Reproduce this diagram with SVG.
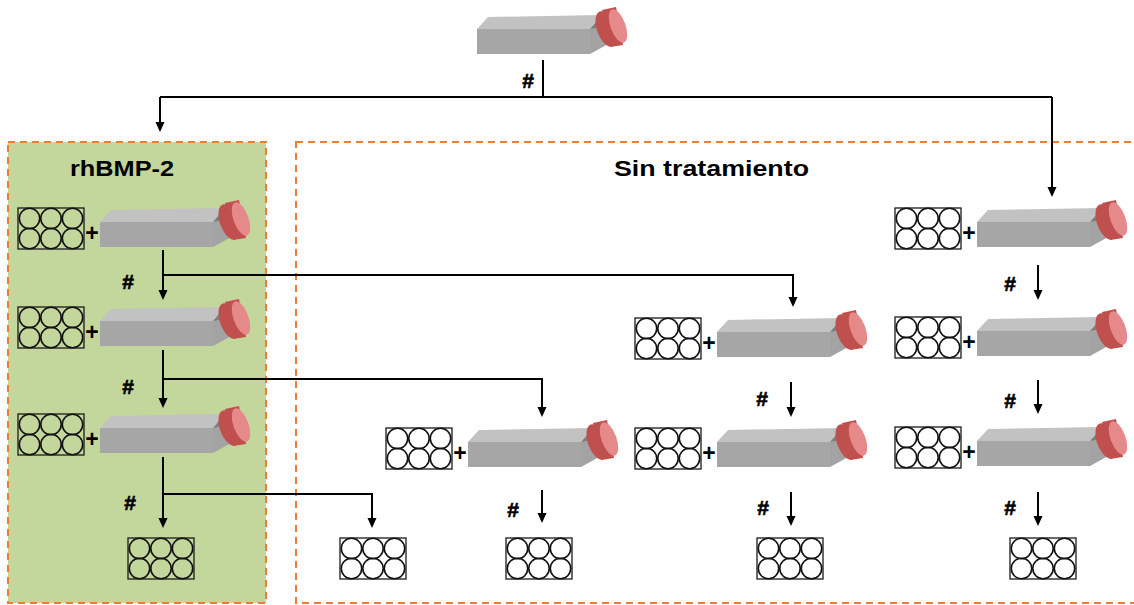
<svg xmlns="http://www.w3.org/2000/svg" xmlns:xlink="http://www.w3.org/1999/xlink" width="1134" height="605" viewBox="0 0 1134 605">
  <style>
    .lbl { font-family: "Liberation Sans", Arial, sans-serif; font-weight: bold; fill: #000; }
    .title { font-size: 22px; }
    .hash { font-size: 21px; text-anchor: middle; stroke: #000; stroke-width: 0.6; }
    .plus { font-size: 23px; text-anchor: middle; }
    .conn { fill: none; stroke: #000; stroke-width: 2; }
    .arrow { marker-end: url(#head); }
    .plate rect { fill: none; stroke: #1a1a1a; stroke-width: 1.3; }
    .plate circle { fill: none; stroke: #111; stroke-width: 1.6; }
    .box { stroke: #ed7d31; stroke-width: 2; stroke-dasharray: 7 5; }
  </style>
  <defs>
    <marker id="head" markerUnits="userSpaceOnUse" markerWidth="10" markerHeight="10" refX="7" refY="4.5" orient="auto">
      <path d="M0,0 L10,4.5 L0,9 z" fill="#000"/>
    </marker>
    <!-- culture flask: origin is the top-left corner of the front face -->
    <g id="flask">
      <polygon points="0,0 11,-12 124,-14 113,0" fill="#c2c2c2"/>
      <polygon points="0,0 113,0 113,25 0,25" fill="#a6a6a6"/>
      <polygon points="113,0 124,-14 133,14 113,25" fill="#a3a3a3"/>
      <polygon points="113,0 125,-13 128,-3" fill="#7e7e7e"/>
      <polygon points="125,-19 139,-22 146,16 133,18" fill="#c0504d"/>
      <ellipse cx="129" cy="0" rx="9" ry="18.5" transform="rotate(-20 129 0)" fill="#c0504d"/>
      <ellipse cx="141" cy="-3" rx="7.5" ry="17.5" transform="rotate(-20 141 -3)" fill="#e5898a"/>
    </g>
    <!-- six-well plate: origin is the top-left corner -->
    <g id="plate" class="plate">
      <rect x="0" y="0" width="66" height="41"/>
      <circle cx="11.5" cy="10.5" r="10.2"/>
      <circle cx="33" cy="10.5" r="10.2"/>
      <circle cx="54.5" cy="10.5" r="10.2"/>
      <circle cx="11.5" cy="30.5" r="10.2"/>
      <circle cx="33" cy="30.5" r="10.2"/>
      <circle cx="54.5" cy="30.5" r="10.2"/>
    </g>
  </defs>

  <rect width="1134" height="605" fill="#fff"/>

  <!-- treatment groups -->
  <rect id="group-rhbmp2" class="box" x="8" y="142" width="258" height="461" fill="#c3d69b"/>
  <rect id="group-control" class="box" x="296" y="142" width="850" height="461" fill="none"/>
  <text class="lbl title" x="70" y="176" textLength="104" lengthAdjust="spacingAndGlyphs">rhBMP-2</text>
  <text class="lbl title" x="614" y="176" textLength="195" lengthAdjust="spacingAndGlyphs">Sin tratamiento</text>

  <!-- source flask -->
  <g id="source">
    <use href="#flask" x="477" y="29"/>
  </g>

  <!-- rhBMP-2 passages -->
  <g id="g1">
    <use href="#plate" x="18" y="208"/>
    <text class="lbl plus" x="92" y="241">+</text>
    <use href="#flask" x="100" y="222"/>
  </g>
  <g id="g2">
    <use href="#plate" x="18" y="307"/>
    <text class="lbl plus" x="92" y="340">+</text>
    <use href="#flask" x="100" y="321"/>
  </g>
  <g id="g3">
    <use href="#plate" x="18" y="414"/>
    <text class="lbl plus" x="92" y="447">+</text>
    <use href="#flask" x="100" y="428"/>
  </g>
  <g id="g4">
    <use href="#plate" x="128" y="538"/>
  </g>

  <!-- untreated passages -->
  <g id="r1">
    <use href="#plate" x="895" y="208"/>
    <text class="lbl plus" x="969" y="241">+</text>
    <use href="#flask" x="977" y="222"/>
  </g>
  <g id="r2">
    <use href="#plate" x="895" y="317"/>
    <text class="lbl plus" x="969" y="350">+</text>
    <use href="#flask" x="977" y="331"/>
  </g>
  <g id="r3">
    <use href="#plate" x="895" y="427"/>
    <text class="lbl plus" x="969" y="460">+</text>
    <use href="#flask" x="977" y="441"/>
  </g>
  <g id="r4">
    <use href="#plate" x="1010" y="538"/>
  </g>

  <g id="m1">
    <use href="#plate" x="635" y="318"/>
    <text class="lbl plus" x="709" y="351">+</text>
    <use href="#flask" x="717" y="332"/>
  </g>
  <g id="m2">
    <use href="#plate" x="635" y="428"/>
    <text class="lbl plus" x="709" y="461">+</text>
    <use href="#flask" x="717" y="442"/>
  </g>
  <g id="m3">
    <use href="#plate" x="757" y="538"/>
  </g>

  <g id="l1">
    <use href="#plate" x="386" y="428"/>
    <text class="lbl plus" x="460" y="461">+</text>
    <use href="#flask" x="468" y="442"/>
  </g>
  <g id="l2">
    <use href="#plate" x="506" y="538"/>
  </g>

  <g id="l0">
    <use href="#plate" x="340" y="538"/>
  </g>

  <!-- connectors -->
  <g id="connectors">
    <path class="conn" d="M543,60 V97"/>
    <path class="conn" d="M160,97 H1052"/>
    <path class="conn arrow" d="M160,97 V129"/>
    <path class="conn arrow" d="M1052,97 V194"/>

    <path class="conn arrow" d="M163,250 V297"/>
    <path class="conn arrow" d="M163,275 H793 V304"/>
    <path class="conn arrow" d="M163,350 V405"/>
    <path class="conn arrow" d="M163,379 H542 V414"/>
    <path class="conn arrow" d="M163,457 V525"/>
    <path class="conn arrow" d="M163,494 H372 V525"/>

    <path class="conn arrow" d="M1038,265 V297"/>
    <path class="conn arrow" d="M1038,380 V411"/>
    <path class="conn arrow" d="M1038,492 V523"/>

    <path class="conn arrow" d="M791,382 V414"/>
    <path class="conn arrow" d="M791,492 V523"/>

    <path class="conn arrow" d="M542,490 V520"/>
  </g>

  <!-- passage marks -->
  <g id="marks">
    <text class="lbl hash" x="528" y="88">#</text>
    <text class="lbl hash" x="128" y="289">#</text>
    <text class="lbl hash" x="128" y="394">#</text>
    <text class="lbl hash" x="130" y="510">#</text>
    <text class="lbl hash" x="1010" y="291">#</text>
    <text class="lbl hash" x="1010" y="408">#</text>
    <text class="lbl hash" x="1010" y="515">#</text>
    <text class="lbl hash" x="762" y="406">#</text>
    <text class="lbl hash" x="763" y="515">#</text>
    <text class="lbl hash" x="513" y="517">#</text>
  </g>
</svg>
